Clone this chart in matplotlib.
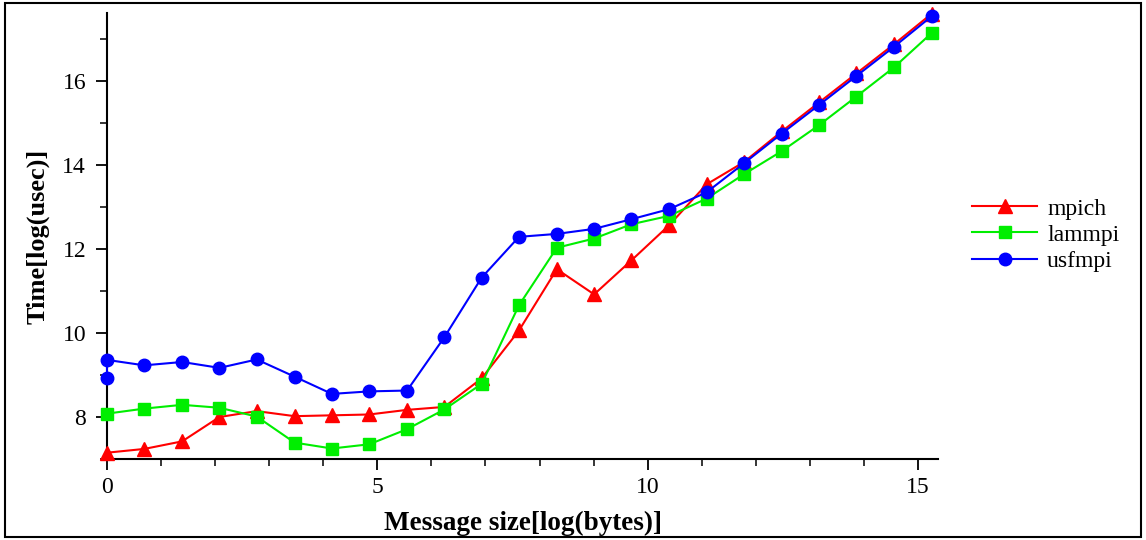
import matplotlib
matplotlib.use("Agg")
import matplotlib.pyplot as plt
from matplotlib.patches import Rectangle
from matplotlib.ticker import MultipleLocator

x = [0.0, 0.69, 1.39, 2.08, 2.77, 3.47, 4.16, 4.85, 5.55, 6.24, 6.93, 7.62,
     8.32, 9.01, 9.70, 10.40, 11.09, 11.78, 12.48, 13.17, 13.86, 14.56, 15.25]
mpich = [7.15, 7.24, 7.42, 8.0, 8.14, 8.02, 8.04, 8.06, 8.17, 8.24, 8.92, 10.06,
         11.52, 10.92, 11.73, 12.57, 13.54, 14.07, 14.80, 15.49, 16.18, 16.88, 17.60]
lammpi = [8.08, 8.20, 8.29, 8.22, 8.01, 7.39, 7.25, 7.35, 7.71, 8.18, 8.79, 10.66,
          12.03, 12.25, 12.59, 12.79, 13.20, 13.78, 14.33, 14.95, 15.63, 16.33, 17.14]
usf_x = [0.0] + x
usfmpi = [8.94, 9.36, 9.23, 9.31, 9.17, 9.37, 8.96, 8.55, 8.61, 8.63, 9.90, 11.32, 12.29,
          12.36, 12.48, 12.71, 12.95, 13.35, 14.04, 14.75, 15.43, 16.12, 16.82, 17.54]

plt.rcParams['font.family'] = ['Liberation Serif', 'DejaVu Serif']

fig = plt.figure(figsize=(11.46, 5.4), dpi=100)
ax = fig.add_axes([107/1146, 1-459/540, (938-107)/1146, (459-13)/540])

ax.plot(x, mpich, color='#ff0000', marker='^', markersize=9.5, lw=1.5, label='mpich', clip_on=False, zorder=3)
ax.plot(x, lammpi, color='#00ee00', marker='s', markersize=8.5, lw=1.5, label='lammpi', clip_on=False, zorder=4)
ax.plot(usf_x, usfmpi, color='#0000ff', marker='o', markersize=9, lw=1.5, label='usfmpi', clip_on=False, zorder=5)

ax.set_xlim(0, 15.37)
ax.set_ylim(7.0, 17.62)
ax.xaxis.set_major_locator(MultipleLocator(5))
ax.xaxis.set_minor_locator(MultipleLocator(1))
ax.yaxis.set_major_locator(MultipleLocator(2))
ax.yaxis.set_minor_locator(MultipleLocator(1))
ax.tick_params(which='major', length=8, width=1.3, labelsize=17, direction='out')
ax.tick_params(axis='x', which='major', pad=5)
ax.tick_params(axis='y', which='major', pad=7)
ax.tick_params(which='minor', length=5, width=1.1, direction='out')
for s in ['top', 'right']:
    ax.spines[s].set_visible(False)
for s in ['left', 'bottom']:
    ax.spines[s].set_linewidth(1.5)

ax.set_xlabel('Message size[log(bytes)]', fontsize=19.5, fontweight='bold', labelpad=9)
ax.set_ylabel('Time[log(usec)]', fontsize=19, fontweight='bold', labelpad=9)

leg = fig.legend(loc='center left', bbox_to_anchor=(951/1146, 1-235/540), frameon=False,
                 fontsize=17, handlelength=2.75, labelspacing=0.19, handletextpad=0.42)

fig.patches.append(Rectangle((5/1146, 3/540), 1136/1146, 534/540, transform=fig.transFigure,
                             fill=False, edgecolor='black', linewidth=1.5))

fig.savefig('out.png', dpi=100)
